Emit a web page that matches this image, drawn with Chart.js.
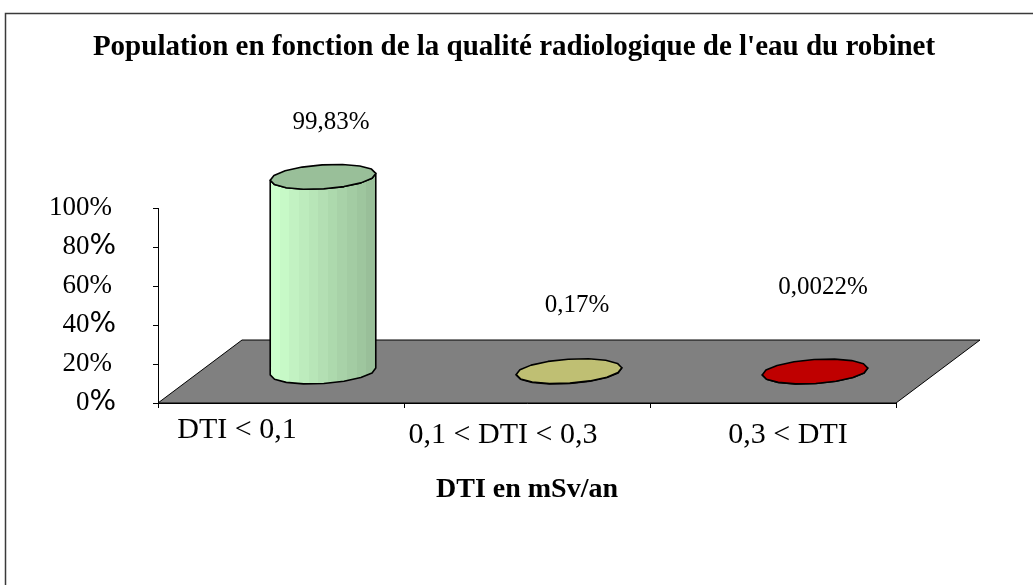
<!DOCTYPE html>
<html>
<head>
<meta charset="utf-8">
<script src="https://cdn.jsdelivr.net/npm/chart.js@4.4.1/dist/chart.umd.min.js"></script>
<style>
  html,body{margin:0;padding:0;background:#fff;}
  #c-dti{display:block;}
</style>
</head>
<body>
<canvas id="c-dti" width="1033" height="585"></canvas>
<script>
// ── data ──
const TITLE = "Population en fonction de la qualité radiologique de l'eau du robinet";
const CATS = ['DTI < 0,1', '0,1 < DTI < 0,3', '0,3 < DTI'];
const POP = [99.83, 0.17, 0.0022];           // % de la population
const Y_TICKS = [0, 20, 40, 60, 80, 100];
const BASE_COLS = ['#ccffcc', '#ffff99', '#ff0000'];

// ── look ──
const SERIF = '"Liberation Serif", "Times New Roman", serif';
const SANS = '"DejaVu Sans", sans-serif';
const DEPTH = {dx: 84, dy: 63};              // floor depth (3D look)
const SANS_PCT = [0, 40, 80];                // ticks where the % sign fell back to a sans font
const LBL_NUDGE = [[-44, 27], [-24, 32], [15, 32]];  // x tick labels, relative to tick centre / axis
const VAL_LIFT = [54, 66, 84];               // value labels, above cylinder top

const fmtPct = v => String(v).replace('.', ',') + '%';

function shade(hex, f){
  const n = parseInt(hex.slice(1), 16);
  const r = Math.round((n >> 16 & 255) * f), g = Math.round((n >> 8 & 255) * f), b = Math.round((n & 255) * f);
  return `rgb(${r},${g},${b})`;
}

function ellPts(cx, cy, rx, ry, rot, n){
  const p = [];
  for(let k = 0; k < n; k++){
    const t = k / n * 2 * Math.PI;
    p.push([cx + rx*Math.cos(t)*Math.cos(rot) - ry*Math.sin(t)*Math.sin(rot),
            cy + rx*Math.cos(t)*Math.sin(rot) + ry*Math.sin(t)*Math.cos(rot)]);
  }
  return p;
}

function cylinder(ctx, cx, yBot, yTop, rx, ry, col){
  const N = 16, rot = -0.065;
  const bot = ellPts(cx, yBot, rx, ry, rot, N);
  const top = ellPts(cx, yTop, rx, ry, rot, N);
  // banded body shading
  const g = ctx.createLinearGradient(cx - rx, 0, cx + rx, 0);
  const bands = 11;
  for(let i = 0; i < bands; i++){
    const c = shade(col, 1 - 0.25 * i / (bands - 1));
    g.addColorStop(i / bands, c); g.addColorStop((i + 1) / bands, c);
  }
  ctx.save();
  ctx.lineWidth = 1.6; ctx.strokeStyle = '#000'; ctx.lineJoin = 'round';
  ctx.beginPath();
  for(let k = 0; k <= N/2; k++) ctx[k ? 'lineTo' : 'moveTo'](bot[k][0], bot[k][1]);
  for(let k = N/2; k >= 0; k--) ctx.lineTo(top[k][0], top[k][1]);
  ctx.closePath();
  ctx.fillStyle = g; ctx.fill(); ctx.stroke();
  ctx.beginPath();
  top.forEach((p, k) => ctx[k ? 'lineTo' : 'moveTo'](p[0], p[1]));
  ctx.closePath();
  ctx.fillStyle = shade(col, 0.75); ctx.fill(); ctx.stroke();
  ctx.restore();
}

// ── 3D plugin: frame, floor, cylinders, texts ──
const dti3d = {
  id: 'dti3d',
  beforeDraw(chart){
    const {ctx, chartArea: a} = chart;
    ctx.save();
    ctx.fillStyle = '#fff'; ctx.fillRect(0, 0, chart.width, chart.height);
    ctx.strokeStyle = '#3a3a3a'; ctx.lineWidth = 1.5;
    ctx.beginPath(); ctx.moveTo(5.5, chart.height); ctx.lineTo(5.5, 13.5); ctx.lineTo(chart.width, 13.5); ctx.stroke();
    // floor
    ctx.beginPath();
    ctx.moveTo(a.left, a.bottom); ctx.lineTo(a.right, a.bottom);
    ctx.lineTo(a.right + DEPTH.dx, a.bottom - DEPTH.dy); ctx.lineTo(a.left + DEPTH.dx, a.bottom - DEPTH.dy);
    ctx.closePath();
    ctx.fillStyle = '#808080'; ctx.fill();
    ctx.strokeStyle = '#000'; ctx.lineWidth = 1; ctx.stroke();
    ctx.restore();
  },
  afterDatasetsDraw(chart){
    const {ctx, scales: {x, y}} = chart;
    const y0 = y.getPixelForValue(0);
    const rx = (x.getPixelForValue(1) - x.getPixelForValue(0)) * 0.215;
    POP.forEach((v, i) => {
      const cx = x.getPixelForValue(i) + DEPTH.dx / 2;
      const yb = y0 - DEPTH.dy / 2;
      const yt = yb - (y0 - y.getPixelForValue(v));
      cylinder(ctx, cx, yb, yt, rx, 12, BASE_COLS[i]);
      ctx.save();
      ctx.font = '25px ' + SERIF; ctx.fillStyle = '#000';
      ctx.textAlign = 'center'; ctx.textBaseline = 'middle';
      ctx.fillText(fmtPct(v), cx + 8, yt - VAL_LIFT[i]);
      ctx.restore();
    });
  },
  afterDraw(chart){
    const {ctx, scales: {x, y}} = chart;
    ctx.save();
    ctx.fillStyle = '#000'; ctx.textBaseline = 'middle';
    // title (drawn here so it is not squeezed into the plot-width box)
    ctx.font = 'bold 29px ' + SERIF; ctx.textAlign = 'center';
    ctx.fillText(TITLE, 514, 48, 860);
    // y tick labels (number in serif, some % signs in sans)
    Y_TICKS.forEach(v => {
      const py = y.getPixelForValue(v), right = 112;
      ctx.textAlign = 'right';
      if(SANS_PCT.includes(v)){
        ctx.font = '28px ' + SANS;
        const w = ctx.measureText('%').width;
        ctx.fillText('%', right + 4, py);
        ctx.font = '27px ' + SERIF;
        ctx.fillText(String(v), right + 4 - w, py);
      } else {
        ctx.font = '27px ' + SERIF;
        ctx.fillText(v + '%', right, py);
      }
    });
    // x tick labels
    ctx.font = '30px ' + SERIF; ctx.textAlign = 'center';
    CATS.forEach((c, i) => {
      ctx.fillText(c, x.getPixelForValue(i) + LBL_NUDGE[i][0], x.top + LBL_NUDGE[i][1]);
    });
    ctx.restore();
  }
};

new Chart(document.getElementById('c-dti'), {
  type: 'bar',
  data: {labels: CATS, datasets: [{data: POP, backgroundColor: 'rgba(0,0,0,0)', borderWidth: 0}]},
  options: {
    responsive: false, animation: false, devicePixelRatio: 1,
    events: [],
    layout: {padding: {left: 153, right: 137, top: 208, bottom: 78.2}},
    plugins: {legend: {display: false}, tooltip: {enabled: false}, title: {display: false}},
    scales: {
      x: {
        offset: true,
        grid: {offset: true, drawOnChartArea: false, tickLength: 5, color: '#000'},
        border: {color: '#000', width: 1},
        ticks: {display: false},
        title: {display: true, text: 'DTI en mSv/an', color: '#000',
          font: {family: SERIF, size: 28, weight: 'bold'}, padding: {top: 65.2, bottom: 0}}
      },
      y: {
        min: 0, max: 100,
        grid: {drawOnChartArea: false, tickLength: 5, color: '#000'},
        border: {color: '#000', width: 1},
        ticks: {display: false, stepSize: 20}
      }
    }
  },
  plugins: [dti3d]
});
</script>
</body>
</html>
